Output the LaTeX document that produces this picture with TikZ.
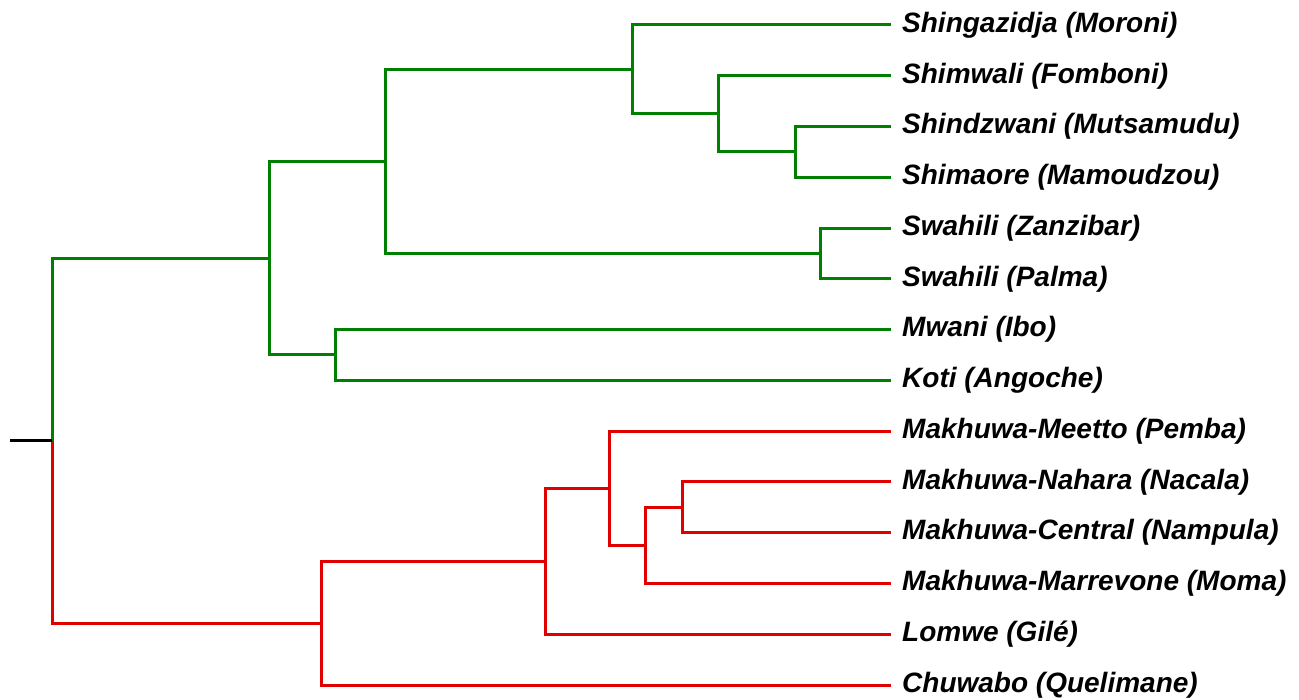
\documentclass[tikz,border=0pt]{standalone}
\usepackage{fontspec}
\setmainfont{Liberation Sans}
\definecolor{tgreen}{RGB}{0,128,0}
\definecolor{tred}{RGB}{225,0,0}
\begin{document}
\begin{tikzpicture}[x=1pt,y=-1pt,
  leaf/.style={anchor=west,inner xsep=11pt,inner ysep=0pt,text=black,
    font=\fontsize{28}{34}\selectfont\bfseries\itshape},
  gb/.style={draw=tgreen,line width=3pt},
  rb/.style={draw=tred,line width=3pt},
  kb/.style={draw=black,line width=3pt}]
\useasboundingbox (0,0) rectangle (1299,700);
% leaves
\node[leaf] (t1)  at (891,25)    {Shingazidja (Moroni)};
\node[leaf] (t2)  at (891,75.8)  {Shimwali (Fomboni)};
\node[leaf] (t3)  at (891,126.5) {Shindzwani (Mutsamudu)};
\node[leaf] (t4)  at (891,177.3) {Shimaore (Mamoudzou)};
\node[leaf] (t5)  at (891,228.1) {Swahili (Zanzibar)};
\node[leaf] (t6)  at (891,278.8) {Swahili (Palma)};
\node[leaf] (t7)  at (891,329.6) {Mwani (Ibo)};
\node[leaf] (t8)  at (891,380.4) {Koti (Angoche)};
\node[leaf] (t9)  at (891,431.2) {Makhuwa-Meetto (Pemba)};
\node[leaf] (t10) at (891,481.9) {Makhuwa-Nahara (Nacala)};
\node[leaf] (t11) at (891,532.7) {Makhuwa-Central (Nampula)};
\node[leaf] (t12) at (891,583.5) {Makhuwa-Marrevone (Moma)};
\node[leaf] (t13) at (891,634.2) {Lomwe (Gilé)};
\node[leaf] (t14) at (891,685)   {Chuwabo (Quelimane)};
% internal nodes
\coordinate (A) at (795,151.9);
\coordinate (B) at (718,113.9);
\coordinate (C) at (632,69.4);
\coordinate (D) at (820,253.5);
\coordinate (E) at (385,161.5);
\coordinate (F) at (335,355);
\coordinate (G) at (269,258.2);
\coordinate (H) at (682,507.3);
\coordinate (I) at (645,545.4);
\coordinate (J) at (609,488.3);
\coordinate (K) at (545,561.2);
\coordinate (M) at (321,623.1);
\coordinate (R) at (52,440.7);
\coordinate (S) at (10,440.7);
% green clade
\path[gb] (t3.west) -| (A) |- (t4.west);
\path[gb] (t2.west) -| (B) |- (A);
\path[gb] (t1.west) -| (C) |- (B);
\path[gb] (t5.west) -| (D) |- (t6.west);
\path[gb] (C) -| (E) |- (D);
\path[gb] (t7.west) -| (F) |- (t8.west);
\path[gb] (E) -| (G) |- (F);
% red clade
\path[rb] (t10.west) -| (H) |- (t11.west);
\path[rb] (H) -| (I) |- (t12.west);
\path[rb] (t9.west) -| (J) |- (I);
\path[rb] (J) -| (K) |- (t13.west);
\path[rb] (K) -| (M) |- (t14.west);
% root
\path[gb] (R) |- (G);
\path[rb] (R) |- (M);
\path[kb] (S) -- (R);
\end{tikzpicture}
\end{document}
